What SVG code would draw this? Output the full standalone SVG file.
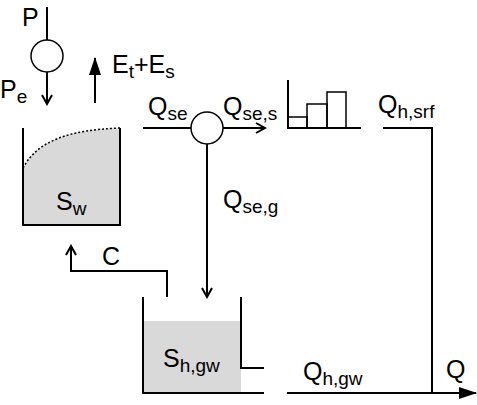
<svg xmlns="http://www.w3.org/2000/svg" width="477" height="405" viewBox="0 0 477 405">
<defs>
<style>
.l{stroke:#000;stroke-width:2;fill:none}
.t{font-family:"Liberation Sans",Arial,sans-serif;font-size:25px;fill:#000}
.s{font-size:19px}
.fill{fill:#d9d9d9;stroke:none}
</style>
<marker id="open" viewBox="0 0 12 12" refX="10" refY="6" markerWidth="12" markerHeight="12" markerUnits="userSpaceOnUse" orient="auto"><path d="M1,1 L10,6 L1,11" fill="none" stroke="#000" stroke-width="2"/></marker>
<marker id="solid" viewBox="0 0 18 12" refX="17" refY="6" markerWidth="18" markerHeight="12" markerUnits="userSpaceOnUse" orient="auto"><path d="M0,0 L18,6 L0,12 Z" fill="#000"/></marker>
</defs>
<g id="precip">
<circle cx="47" cy="56" r="16" fill="#fff" stroke="#000" stroke-width="1.5"/>
<text class="t" x="22" y="26">P</text>
<text class="t" x="0" y="98">P<tspan class="s" dy="5">e</tspan></text>
</g>
<g id="evap">
<text class="t" x="112" y="73">E<tspan class="s" dy="5">t</tspan><tspan dy="-5">+E</tspan><tspan class="s" dy="5">s</tspan></text>
</g>
<g id="Sw">
<path class="fill" d="M23,168 C38,140 70,130 120,128 L120,225 L23,225 Z"/>
<path d="M23,168 C38,140 70,130 120,128" fill="none" stroke="#000" stroke-width="1.5" stroke-dasharray="2,2"/>
<path class="l" d="M23,128 L23,225 L120,225 L120,128"/>
<text class="t" x="56" y="210">S<tspan class="s" dy="5">w</tspan></text>
</g>
<g id="splitter">
<circle cx="207" cy="128" r="16" fill="#fff" stroke="#000" stroke-width="1.5"/>
<text class="t" x="148" y="115">Q<tspan class="s" dy="5">se</tspan></text>
<text class="t" x="223" y="115">Q<tspan class="s" dy="5">se,s</tspan></text>
<text class="t" x="223" y="208">Q<tspan class="s" dy="5">se,g</tspan></text>
</g>
<g id="histogram">
<path class="l" d="M288,80 L288,128 L361,128"/>
<rect x="288" y="117" width="19" height="11" fill="none" stroke="#000" stroke-width="1.5"/>
<rect x="307" y="104" width="20" height="24" fill="none" stroke="#000" stroke-width="1.5"/>
<rect x="327" y="92" width="19" height="36" fill="none" stroke="#000" stroke-width="1.5"/>
</g>
<g id="Sgw">
<rect class="fill" x="143" y="321" width="98" height="72"/>
<path class="l" d="M143,297 L143,393 L264,393"/>
<path class="l" d="M241,297 L241,368 L264,368"/>
<text class="t" x="163" y="367">S<tspan class="s" dy="5">h,gw</tspan></text>
</g>
<g id="labels">
<text class="t" x="378" y="113">Q<tspan class="s" dy="5">h,srf</tspan></text>
<text class="t" x="102" y="265">C</text>
<text class="t" x="303" y="380">Q<tspan class="s" dy="5">h,gw</tspan></text>
<text class="t" x="446" y="378">Q</text>
</g>
<g id="connectors">
<path class="l" d="M47,7 L47,40"/>
<path class="l" d="M47,72 L47,104" marker-end="url(#open)"/>
<path class="l" d="M95,103 L95,58" marker-end="url(#solid)"/>
<path class="l" d="M143,128 L191,128"/>
<path class="l" d="M223,128 L265,128" marker-end="url(#open)"/>
<path class="l" d="M207,144 L207,297" marker-end="url(#open)"/>
<path class="l" d="M167,297 L167,271 L71,271 L71,246" marker-end="url(#open)"/>
<path class="l" d="M383,128 L432,128 L432,393"/>
<path class="l" d="M287,393 L476,393" marker-end="url(#solid)"/>
</g>
</svg>
